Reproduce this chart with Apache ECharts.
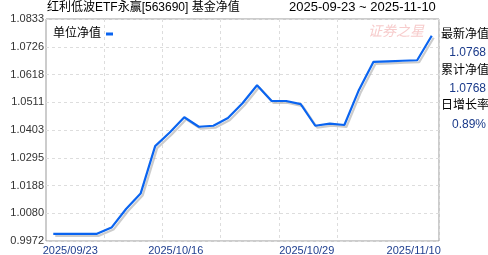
<!DOCTYPE html>
<html>
<head>
<meta charset="utf-8">
<script src="https://cdn.jsdelivr.net/npm/echarts@6/dist/echarts.min.js"></script>
<style>
html,body{margin:0;padding:0;background:#fff;}
#c{width:488px;height:255px;}
</style>
</head>
<body>
<div id="c"></div>
<script>
const dates = ['2025/09/23','2025/09/26','2025/09/29','2025/09/30','2025/10/09','2025/10/10','2025/10/13','2025/10/14','2025/10/15','2025/10/16','2025/10/17','2025/10/20','2025/10/21','2025/10/22','2025/10/23','2025/10/24','2025/10/27','2025/10/28','2025/10/29','2025/10/30','2025/10/31','2025/11/03','2025/11/04','2025/11/05','2025/11/06','2025/11/07','2025/11/10'];
const navValues = [1.0000,1.0000,1.0000,1.0000,1.0024,1.0096,1.0156,1.0340,1.0393,1.0452,1.0415,1.0419,1.0449,1.0506,1.0576,1.0515,1.0515,1.0503,1.0419,1.0427,1.0422,1.0558,1.0667,1.0669,1.0671,1.0673,1.0768];
const yTickLabels = ['0.9972','1.0080','1.0188','1.0295','1.0403','1.0511','1.0618','1.0726','1.0833'];
const xLabelIdx = [0,9,18,26];
const seriesName = '单位净值';
const titleText = '红利低波ETF永赢[563690] 基金净值';
const rangeText = '2025-09-23 ~ 2025-11-10';
const infoLabels = ['最新净值','累计净值','日增长率'];
const infoValues = ['1.0768','1.0768','0.89%'];
const watermarkText = '证券之星';

const yMin = 0.9972, yMax = 1.0833;
const yInt = (yMax - yMin) / 8;

const chart = echarts.init(document.getElementById('c'), null, {renderer:'canvas'});
const font = 'Arial, "Liberation Sans", "Noto Sans CJK SC", sans-serif';
const graphics = [
  {type:'text', left:47, top:2, style:{text:titleText, font:'12px '+font, fill:'#000'}},
  {type:'text', left:289, top:1, style:{text:rangeText, font:'13px '+font, fill:'#000'}},
  {type:'text', left:368, top:24, z:-1, style:{text:watermarkText, font:'italic 14px "Noto Sans CJK SC", sans-serif', fill:'#f7cccc'}}
];
infoLabels.forEach((t,i)=>{
  graphics.push({type:'text', left:441, top:[29,65,100][i], style:{text:t, font:'12px '+font, fill:'#000'}});
  graphics.push({type:'text', right:2, top:[47,83,119][i], style:{text:infoValues[i], font:'12px '+font, fill:'#1a3a8a'}});
});

chart.setOption({
  animation:false,
  grid:{left:46, top:19, right:49, bottom:14, show:true, borderColor:'#999', borderWidth:1, containLabel:false, outerBoundsMode:'none'},
  legend:{
    left:48, top:23, align:'right', icon:'rect', itemWidth:7, itemHeight:3,
    data:[seriesName],
    textStyle:{fontSize:12, color:'#000', fontFamily:font, padding:[3,0,0,0]},
    itemStyle:{color:'#0a64f0'}
  },
  graphic:graphics,
  xAxis:{
    type:'category', data:dates, boundaryGap:true,
    axisLine:{show:false}, axisTick:{show:false},
    splitLine:{show:true, interval:(i)=> i>0 && i%4===0 && i<=20, lineStyle:{color:'#ddd', type:[3,3]}},
    axisLabel:{
      interval:(i)=> xLabelIdx.indexOf(i) >= 0,
      margin:4,
      fontSize:11, color:'#1f3f8f', fontFamily:font,
      formatter:(v,i)=>{
        if(i===0) return '{a|'+v+'}';
        if(i===dates.length-1) return '{c|'+v+'}';
        return '{b|'+v+'}';
      },
      rich:{
        a:{padding:[0,0,0,34], fontSize:11, color:'#1f3f8f', fontFamily:font},
        b:{padding:[0,17,0,0], fontSize:11, color:'#1f3f8f', fontFamily:font},
        c:{padding:[0,36,0,0], fontSize:11, color:'#1f3f8f', fontFamily:font}
      }
    }
  },
  yAxis:{
    type:'value', min:yMin, max:yMax, interval:yInt,
    axisLine:{show:false}, axisTick:{show:false},
    splitLine:{show:true, lineStyle:{color:'#ddd', type:[3,3]}},
    axisLabel:{
      margin:2, fontSize:11, color:'#333', fontFamily:font,
      formatter:(v)=> yTickLabels[Math.round((v - yMin)/yInt)]
    }
  },
  series:[{
    name:seriesName, type:'line', data:navValues, symbol:'none',
    lineStyle:{color:'#0a64f0', width:2.2, shadowColor:'rgba(170,170,170,0.6)', shadowBlur:0, shadowOffsetX:2, shadowOffsetY:2},
    itemStyle:{color:'#0a64f0'}
  }]
});
</script>
</body>
</html>
